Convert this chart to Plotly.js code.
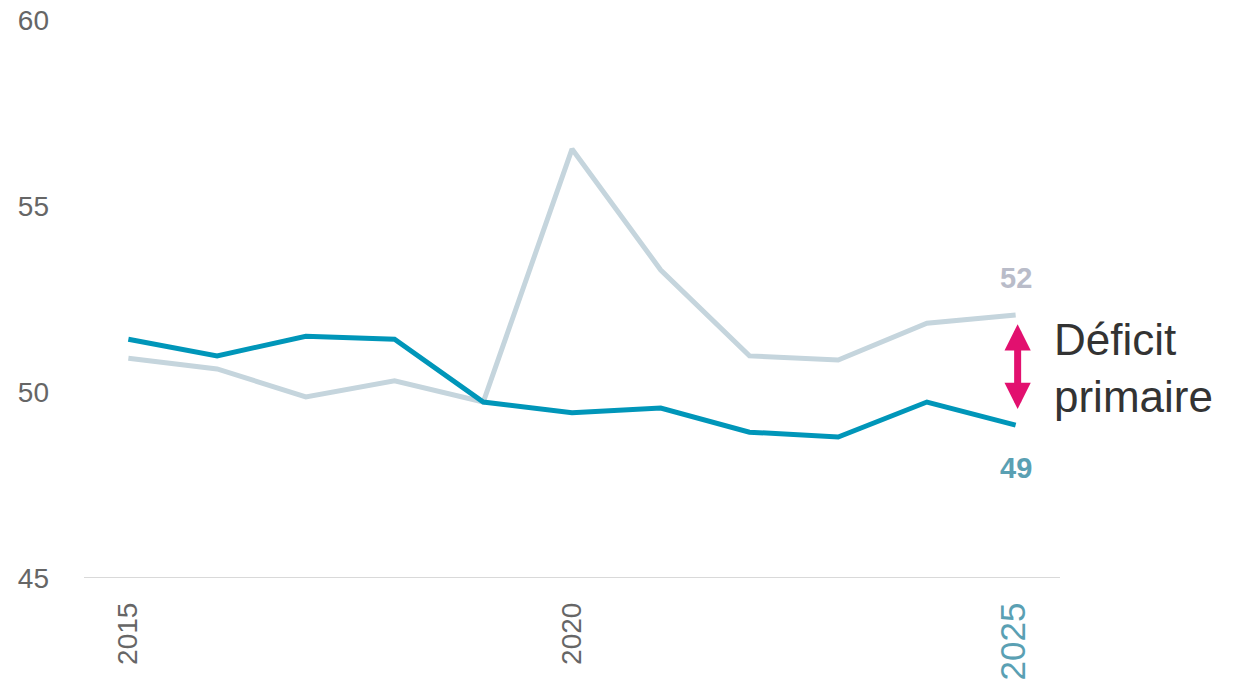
<!DOCTYPE html>
<html>
<head>
<meta charset="utf-8">
<script src="https://cdn.plot.ly/plotly-3.0.1.min.js"></script>
<style>
html,body{margin:0;padding:0;background:#fff;}
#chart{width:1239px;height:687px;}
</style>
</head>
<body>
<div id="chart"></div>
<script>
const years = [2015, 2016, 2017, 2018, 2019, 2020, 2021, 2022, 2023, 2024, 2025];
const depenses = [50.91, 50.62, 49.87, 50.30, 49.73, 56.53, 53.28, 50.97, 50.86, 51.85, 52.07];
const recettes = [51.42, 50.97, 51.50, 51.42, 49.73, 49.44, 49.57, 48.92, 48.79, 49.73, 49.11];
const yTicks = [45, 50, 55, 60];
const xTickVals = [2015, 2020, 2025];
const xTickText = ['2015', '2020', '<span style="color:#5aa0b3;font-size:35px">2025</span>'];
const labelDep = '52';
const labelRec = '49';
const gapLabel = 'Déficit<br>primaire';

const FONT = '"Liberation Sans", Arial, sans-serif';

const traces = [
  {x: years, y: depenses, type: 'scatter', mode: 'lines', line: {color: '#c5d5dd', width: 5}, hoverinfo: 'skip'},
  {x: years, y: recettes, type: 'scatter', mode: 'lines', line: {color: '#0096b9', width: 5}, hoverinfo: 'skip'}
];

const last = years.length - 1;
const layout = {
  width: 1239, height: 687,
  margin: {l: 84, r: 179, t: 20, b: 109},
  paper_bgcolor: '#fff', plot_bgcolor: '#fff',
  showlegend: false,
  font: {family: FONT, color: '#666', size: 28},
  xaxis: {
    range: [2014.5, 2025.5], tickvals: xTickVals, ticktext: xTickText,
    tickangle: -90, showgrid: false, zeroline: false,
    showline: false, ticks: '', ticklabelstandoff: 18,
    tickfont: {family: FONT, size: 28, color: '#666'}
  },
  yaxis: {
    range: [45, 60], tickvals: yTicks, showgrid: false, zeroline: false,
    showline: false, ticks: '', ticklabelstandoff: 34,
    tickfont: {family: FONT, size: 28, color: '#666'}
  },
  shapes: [
    {type: 'line', xref: 'paper', yref: 'y', x0: 0, x1: 1, y0: 45, y1: 45, line: {color: '#d9d9d9', width: 2}}
  ],
  annotations: [
    {x: years[last], y: depenses[last], xref: 'x', yref: 'y', text: '<b>' + labelDep + '</b>', showarrow: false,
     yshift: 37, font: {family: FONT, size: 29, color: '#b9bcc9'}},
    {x: years[last], y: recettes[last], xref: 'x', yref: 'y', text: '<b>' + labelRec + '</b>', showarrow: false,
     yshift: -43, font: {family: FONT, size: 29, color: '#5aa0b3'}},
    {x: years[last], y: 51.82, ax: years[last], ay: 49.5, xref: 'x', yref: 'y', axref: 'x', ayref: 'y',
     text: '', showarrow: true, arrowside: 'end+start', arrowhead: 2, arrowsize: 0.75, arrowwidth: 7,
     arrowcolor: '#e2106f', xshift: 2, standoff: 0, startstandoff: 0},
    {x: years[last], y: 50.65, xref: 'x', yref: 'y', text: gapLabel, showarrow: false,
     xanchor: 'left', yanchor: 'middle', align: 'left', xshift: 36,
     font: {family: FONT, size: 44, color: '#333'}}
  ]
};

Plotly.newPlot('chart', traces, layout, {displayModeBar: false, staticPlot: true});
</script>
</body>
</html>
